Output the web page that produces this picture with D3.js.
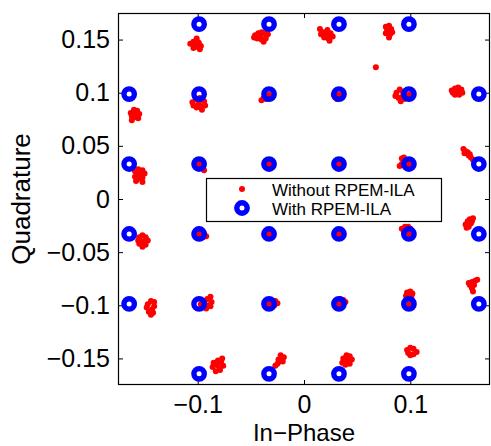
<!DOCTYPE html>
<html>
<head>
<meta charset="utf-8">
<script src="https://cdn.jsdelivr.net/npm/d3@7"></script>
<style>
  body { margin: 0; background: #fff; }
  svg { font-family: "Liberation Sans", Arial, Helvetica, sans-serif; }
</style>
</head>
<body>
<div id="chart"></div>
<script>
// ideal 32-QAM points (with RPEM-ILA)
const levels = [-0.1645, -0.0987, -0.0329, 0.0329, 0.0987, 0.1645];
const withIla = [];
levels.forEach(y => levels.forEach(x => {
  if (Math.abs(x) > 0.15 && Math.abs(y) > 0.15) return; // corners not used
  withIla.push([x, y]);
}));

// received points without RPEM-ILA, read off the picture cluster by cluster
const withoutIla = [
  // top row
  [-0.107,0.146],[-0.104,0.148],[-0.101,0.149],[-0.099,0.147],[-0.097,0.144],[-0.100,0.143],[-0.104,0.142],[-0.102,0.145],[-0.098,0.141],[-0.101,0.151],
  [-0.046,0.154],[-0.043,0.156],[-0.040,0.157],[-0.037,0.156],[-0.034,0.155],[-0.036,0.151],[-0.040,0.150],[-0.044,0.151],[-0.041,0.153],[-0.038,0.148],[-0.047,0.152],
  [0.015,0.160],[0.018,0.157],[0.022,0.159],[0.025,0.156],[0.027,0.153],[0.023,0.151],[0.019,0.152],[0.016,0.155],[0.021,0.155],[0.024,0.149],
  [0.077,0.162],[0.080,0.163],[0.082,0.160],[0.079,0.158],[0.077,0.156],[0.081,0.155],[0.080,0.152],[0.083,0.157],[0.078,0.160],
  [0.0676,0.1239],
  // second row
  [-0.163,0.081],[-0.160,0.084],[-0.157,0.083],[-0.155,0.080],[-0.158,0.077],[-0.162,0.078],[-0.160,0.080],[-0.162,0.074],[-0.156,0.076],
  [-0.105,0.091],[-0.102,0.094],[-0.098,0.095],[-0.094,0.092],[-0.093,0.088],[-0.097,0.087],[-0.101,0.086],[-0.104,0.088],[-0.099,0.090],[-0.096,0.084],
  [-0.033,0.098],[-0.036,0.097],[-0.038,0.095],[-0.040,0.093],[-0.036,0.094],[-0.034,0.095],[-0.031,0.096],
  [0.033,0.098],[0.030,0.099],[0.029,0.096],[0.031,0.094],[0.033,0.095],[0.028,0.098],
  [0.087,0.100],[0.090,0.103],[0.093,0.101],[0.095,0.098],[0.092,0.096],[0.089,0.095],[0.086,0.097],[0.091,0.092],[0.094,0.094],[0.099,0.098],
  [0.139,0.102],[0.142,0.104],[0.145,0.105],[0.148,0.103],[0.149,0.100],[0.146,0.098],[0.142,0.098],[0.140,0.100],[0.144,0.101],
  // third row
  [-0.159,0.026],[-0.156,0.028],[-0.152,0.027],[-0.150,0.024],[-0.152,0.020],[-0.156,0.019],[-0.159,0.021],[-0.155,0.023],[-0.152,0.016],[-0.158,0.017],
  [-0.099,0.033],[-0.097,0.031],[-0.095,0.029],[-0.094,0.027],[-0.096,0.030],[-0.101,0.032],[-0.098,0.035],
  [-0.033,0.033],[-0.036,0.035],[-0.030,0.035],[-0.031,0.030],[-0.035,0.030],[-0.033,0.036],
  [0.033,0.033],[0.030,0.031],[0.036,0.035],[0.035,0.030],[0.031,0.035],[0.036,0.032],
  [0.092,0.038],[0.094,0.039],[0.096,0.036],[0.095,0.032],[0.092,0.033],[0.090,0.031],[0.097,0.033],[0.099,0.033],
  [0.150,0.047],[0.152,0.045],[0.153,0.043],[0.155,0.041],[0.157,0.039],[0.159,0.037],[0.151,0.043],[0.154,0.044],[0.156,0.042],
  // fourth row
  [-0.155,-0.036],[-0.152,-0.034],[-0.149,-0.036],[-0.147,-0.039],[-0.149,-0.043],[-0.152,-0.045],[-0.155,-0.042],[-0.152,-0.040],[-0.156,-0.039],
  [-0.099,-0.033],[-0.097,-0.032],[-0.094,-0.033],[-0.092,-0.035],[-0.095,-0.036],[-0.098,-0.037],[-0.097,-0.035],
  [-0.033,-0.033],[-0.036,-0.032],[-0.031,-0.030],[-0.034,-0.036],[-0.030,-0.035],[-0.037,-0.034],
  [0.033,-0.033],[0.032,-0.031],[0.035,-0.034],
  [0.092,-0.028],[0.095,-0.026],[0.098,-0.026],[0.100,-0.028],[0.097,-0.031],[0.094,-0.031],[0.099,-0.033],
  [0.159,-0.018],[0.156,-0.019],[0.154,-0.021],[0.152,-0.024],[0.155,-0.026],[0.157,-0.023],[0.153,-0.027],[0.158,-0.021],
  // fifth row
  [-0.147,-0.099],[-0.144,-0.096],[-0.141,-0.097],[-0.141,-0.101],[-0.143,-0.104],[-0.146,-0.106],[-0.144,-0.109],[-0.148,-0.102],[-0.142,-0.107],
  [-0.097,-0.099],[-0.094,-0.097],[-0.091,-0.094],[-0.088,-0.092],[-0.087,-0.097],[-0.090,-0.100],[-0.092,-0.103],[-0.088,-0.101],[-0.095,-0.101],
  [-0.033,-0.099],[-0.030,-0.097],[-0.027,-0.096],[-0.025,-0.098],[-0.028,-0.100],[-0.031,-0.101],
  [0.033,-0.099],[0.031,-0.096],[0.034,-0.094],[0.037,-0.095],[0.039,-0.097],[0.036,-0.097],
  [0.097,-0.088],[0.100,-0.087],[0.102,-0.089],[0.099,-0.091],[0.096,-0.091],[0.101,-0.092],[0.099,-0.099],
  [0.155,-0.079],[0.158,-0.078],[0.161,-0.077],[0.163,-0.076],[0.160,-0.081],[0.158,-0.084],[0.159,-0.087],[0.156,-0.081],
  // bottom row
  [-0.085,-0.154],[-0.081,-0.152],[-0.078,-0.153],[-0.076,-0.157],[-0.079,-0.161],[-0.083,-0.162],[-0.086,-0.158],[-0.081,-0.157],[-0.077,-0.150],
  [-0.027,-0.157],[-0.025,-0.155],[-0.023,-0.153],[-0.021,-0.151],[-0.019,-0.149],[-0.020,-0.153],[-0.024,-0.151],[-0.022,-0.147],
  [0.037,-0.150],[0.040,-0.147],[0.043,-0.148],[0.045,-0.151],[0.043,-0.155],[0.039,-0.156],[0.036,-0.154],[0.041,-0.152],
  [0.097,-0.142],[0.100,-0.140],[0.103,-0.141],[0.106,-0.144],[0.103,-0.146],[0.100,-0.147],[0.098,-0.145]
];

const xTicks = [-0.1, 0, 0.1];
const yTicks = [-0.15, -0.1, -0.05, 0, 0.05, 0.1, 0.15];
const legendLabels = ["Without RPEM-ILA", "With RPEM-ILA"];

const margin = { top: 13, right: 1, bottom: 61, left: 118 };
const width = 491 - margin.left - margin.right;
const height = 446 - margin.top - margin.bottom;

const svg = d3.select("#chart")
  .append("svg")
  .attr("width", 491)
  .attr("height", 446)
  .append("g")
  .attr("transform", `translate(${margin.left},${margin.top})`);

const x = d3.scaleLinear().domain([-0.175, 0.175]).range([0, width]);
const y = d3.scaleLinear().domain([-0.175, 0.175]).range([height, 0]);

// matlab style minus sign
const fmt = d => (d < 0 ? "\u2212" : "") + String(Math.abs(d));

// axes with inward ticks
const tickLen = 5;
svg.append("g")
  .attr("transform", `translate(0,${height})`)
  .call(d3.axisBottom(x).tickValues(xTicks).tickSizeInner(-tickLen).tickSizeOuter(0).tickPadding(10).tickFormat(fmt))
  .call(g => g.select(".domain").remove())
  .selectAll("text").style("font-size", "25px").attr("fill", "#000");

svg.append("g")
  .call(d3.axisTop(x).tickValues(xTicks).tickSizeInner(-tickLen).tickSizeOuter(0).tickFormat(""))
  .call(g => g.select(".domain").remove());

svg.append("g")
  .call(d3.axisLeft(y).tickValues(yTicks).tickSizeInner(-tickLen).tickSizeOuter(0).tickPadding(8).tickFormat(fmt))
  .call(g => g.select(".domain").remove())
  .selectAll("text").style("font-size", "25px").attr("fill", "#000");

svg.append("g")
  .attr("transform", `translate(${width},0)`)
  .call(d3.axisRight(y).tickValues(yTicks).tickSizeInner(-tickLen).tickSizeOuter(0).tickFormat(""))
  .call(g => g.select(".domain").remove());

// received points first, ideal rings on top
svg.append("g")
  .selectAll("circle")
  .data(withoutIla)
  .join("circle")
  .attr("cx", d => x(d[0]))
  .attr("cy", d => y(d[1]))
  .attr("r", 3)
  .attr("fill", "#ff0000");

svg.append("g")
  .selectAll("circle")
  .data(withIla)
  .join("circle")
  .attr("cx", d => x(d[0]))
  .attr("cy", d => y(d[1]))
  .attr("r", 5.2)
  .attr("fill", "none")
  .attr("stroke", "#0000ff")
  .attr("stroke-width", 5.4);

// box
svg.append("rect")
  .attr("x", 0.5).attr("y", 0.5)
  .attr("width", width - 1).attr("height", height - 1)
  .attr("fill", "none")
  .attr("stroke", "#000")
  .attr("stroke-width", 1.2);

// axis labels
svg.append("text")
  .attr("x", width / 2)
  .attr("y", height + 56)
  .attr("text-anchor", "middle")
  .style("font-size", "24px")
  .text("In\u2212Phase");

svg.append("text")
  .attr("transform", `translate(${-88},${height / 2}) rotate(-90)`)
  .attr("text-anchor", "middle")
  .style("font-size", "26px")
  .text("Quadrature");

// legend
const lg = svg.append("g").attr("transform", `translate(${206 - margin.left},${178 - margin.top})`);
lg.append("rect")
  .attr("x", 0.5).attr("y", 0.5)
  .attr("width", 235).attr("height", 43)
  .attr("fill", "#fff")
  .attr("stroke", "#000")
  .attr("stroke-width", 1.2);
lg.append("circle").attr("cx", 36).attr("cy", 11).attr("r", 3).attr("fill", "#ff0000");
lg.append("circle").attr("cx", 36).attr("cy", 30).attr("r", 5.2)
  .attr("fill", "none").attr("stroke", "#0000ff").attr("stroke-width", 5.4);
lg.selectAll("text.lab")
  .data(legendLabels)
  .join("text")
  .attr("class", "lab")
  .attr("x", 66)
  .attr("y", (d, i) => 18 + i * 19)
  .style("font-size", "17px")
  .text(d => d);
</script>
</body>
</html>
